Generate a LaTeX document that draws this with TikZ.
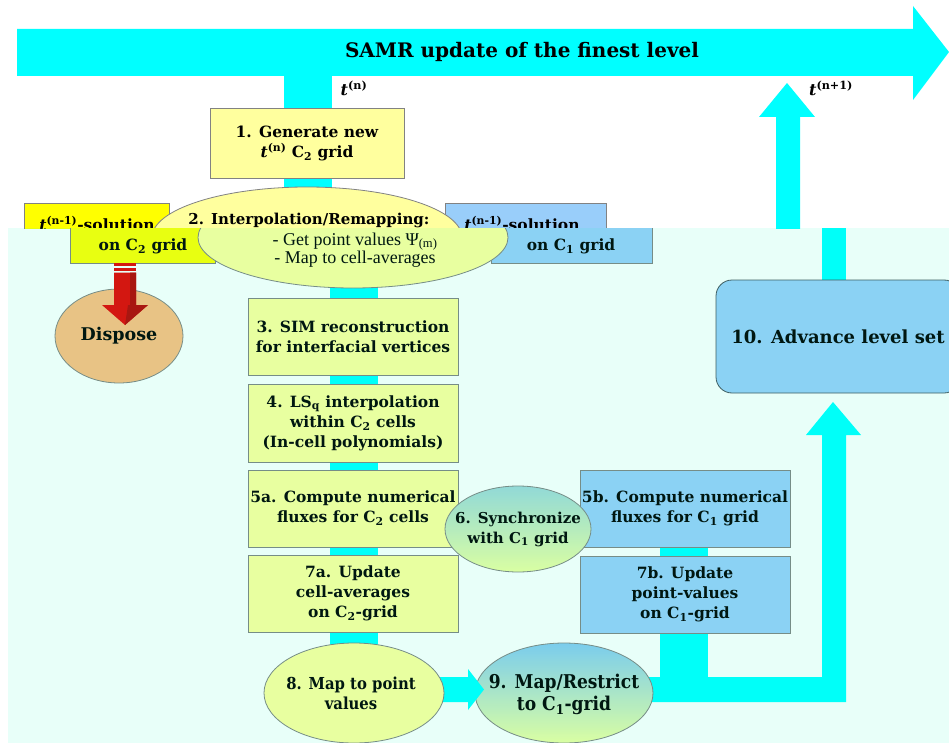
\documentclass[tikz,border=0pt]{standalone}
\usepackage{fontspec}
\setmainfont{DejaVu Serif}
\newfontfamily\tmsfont{Liberation Serif}
\newfontfamily\cndfont{DejaVu Serif Condensed}
\usetikzlibrary{shapes.geometric}
\definecolor{cy}{RGB}{0,255,255}
\definecolor{paley}{RGB}{255,255,158}
\definecolor{yel}{RGB}{255,255,0}
\definecolor{lblue}{RGB}{153,206,250}
\definecolor{tanc}{RGB}{255,190,128}
\definecolor{bord}{RGB}{130,130,130}
\definecolor{dbord}{RGB}{70,80,90}
\definecolor{mint}{RGB}{0,255,190}
\definecolor{redA}{RGB}{232,0,0}
\definecolor{redB}{RGB}{185,0,0}
\tikzset{
  box/.style={draw=bord, line width=0.8pt, rectangle, inner sep=0pt, align=center,
    font=\fontsize{15.5}{20}\selectfont\bfseries},
  ybox/.style={box, fill=paley},
  bbox/.style={box, fill=lblue},
  ell/.style={draw=bord, line width=0.8pt, ellipse, inner sep=0pt},
  etext/.style={inner sep=0pt, align=center},
  lbl/.style={inner sep=0pt, font=\fontsize{16}{18}\selectfont\bfseries},
  txt/.style={inner sep=0pt, anchor=base, font=\fontsize{15.5}{20}\selectfont\bfseries},
  bullet/.style={inner sep=0pt, anchor=base, font=\tmsfont\fontsize{18}{20}\selectfont},
  arrowfill/.style={fill=cy},
}
\newcommand{\tsup}[1]{{\itshape t}\textsuperscript{(#1)}}
% shapes that cross the cut line y=228 (no text)
\newcommand{\splitshapes}[1]{%
  \node[box, fill=yel, minimum width=145pt, minimum height=60pt] (sol2#1) at (142.5,233) {};
  \node[bbox, minimum width=161pt, minimum height=60pt] (sol1#1) at (571.5,233) {};
  \node[ell, fill=paley, minimum width=310pt, minimum height=101pt] (e2#1) at (353,237.5) {};
}
\begin{document}
\begin{tikzpicture}[x=1pt,y=-1pt]
\useasboundingbox (0,0) rectangle (949,743);
\fill[white] (0,0) rectangle (949,743);
% ---------------- upper band (shifted) ----------------
\begin{scope}
  \clip (0,0) rectangle (949,228);
  \begin{scope}[xshift=-46pt]
    \fill[arrowfill] (63,29) -- (959,29) -- (959,6) -- (995,52) -- (959,100) -- (959,76) -- (63,76) -- cycle;
    \node[inner sep=0pt, font=\fontsize{20}{22}\selectfont\bfseries] (title) at (568,52) {SAMR update of the finest level};
    \node[lbl] (tn) at (400,88) {\tsup{n}};
    \node[lbl] (tn1) at (877,88) {\tsup{n+1}};
    \fill[arrowfill] (330,76) rectangle (378,300);
    \fill[arrowfill] (822,300) -- (822,117) -- (805,117) -- (833,83) -- (861,117) -- (846,117) -- (846,300) -- cycle;
    \node[ybox, minimum width=194pt, minimum height=70pt] (b1) at (353,143)
       {1. Generate new\\\tsup{n} C\textsubscript{2} grid};
    \splitshapes{u}
    \node[txt] (sol2a) at (143,230) {\tsup{n-1}-solution};
    \node[txt] (sol1a) at (568,230) {\tsup{n-1}-solution};
    \node[txt, font=\fontsize{15}{20}\selectfont\bfseries] (e2a) at (355,225) {2. Interpolation/Remapping:};
  \end{scope}
\end{scope}
% ---------------- lower band ----------------
\begin{scope}
  \clip (0,228) rectangle (949,743);
  \fill[arrowfill] (330,200) rectangle (378,693);
  \fill[arrowfill] (660,508) rectangle (708,690);
  \fill[arrowfill] (600,677) -- (822,677) -- (822,435) -- (806,435) -- (833,402) -- (861,435)
     -- (846,435) -- (846,702) -- (600,702) -- cycle;
  \fill[arrowfill] (822,300) -- (822,200) -- (846,200) -- (846,300) -- cycle;
  \splitshapes{l}
  \node[txt] (sol2b) at (143,250) {on C\textsubscript{2} grid};
  \node[txt] (sol1b) at (571,250) {on C\textsubscript{1} grid};
  \node[bullet] (e2b) at (355,245) {- Get point values Ψ\textsubscript{(m)}};
  \node[bullet] (e2c) at (355,263.5) {- Map to cell-averages};
  % dispose
  \node[ell, fill=tanc, minimum width=128pt, minimum height=94pt] (disp) at (119,336) {};
  \node[etext, font=\fontsize{17.5}{20}\selectfont\bfseries] (dispt) at (disp.center) {Dispose};
  \fill[redA] (114,263) rectangle (136,265.5);
  \fill[redA] (114,267.5) rectangle (136,270.5);
  \fill[redA] (114,272.5) -- (136,272.5) -- (136,305) -- (148,305) -- (125,325) -- (102,305) -- (114,305) -- cycle;
  \fill[redB] (130,272.5) -- (136,272.5) -- (136,305) -- (148,305) -- (125,325) -- (128,305) -- (130,305) -- cycle;
  % left column
  \node[ybox, minimum width=210pt, minimum height=77pt] (b3) at (353,336.5)
     {3. SIM reconstruction\\for interfacial vertices};
  \node[ybox, minimum width=210pt, minimum height=78pt] (b4) at (353,423)
     {4. LS\textsubscript{q} interpolation\\within C\textsubscript{2} cells\\(In-cell polynomials)};
  \node[ybox, minimum width=210pt, minimum height=77pt] (b5a) at (353,508.5)
     {5a. Compute numerical\\fluxes for C\textsubscript{2} cells};
  \node[ybox, minimum width=210pt, minimum height=77pt] (b7a) at (353,593.5)
     {7a. Update\\cell-averages\\on C\textsubscript{2}-grid};
  % right column
  \node[bbox, minimum width=210pt, minimum height=77pt] (b5b) at (685,508.5)
     {5b. Compute numerical\\fluxes for C\textsubscript{1} grid};
  \node[bbox, minimum width=210pt, minimum height=77pt] (b7b) at (685,594.5)
     {7b. Update\\point-values\\on C\textsubscript{1}-grid};
  \node[ell, top color={rgb,255:red,160;green,214;blue,218}, bottom color={rgb,255:red,240;green,255;blue,160},
        minimum width=146pt, minimum height=86pt] (e6) at (518,529) {};
  \node[etext, font=\fontsize{15}{20}\selectfont\bfseries] (e6t) at (e6.center) {6. Synchronize\\with C\textsubscript{1} grid};
  % box 10
  \node[box, fill=lblue, draw=dbord, rounded corners=16pt, minimum width=244pt, minimum height=113pt,
        font=\fontsize{18}{20}\selectfont\bfseries] (b10) at (838,336.5) {10. Advance level set};
  % bottom ellipses
  \node[ell, top color={rgb,255:red,135;green,200;blue,242}, bottom color={rgb,255:red,240;green,255;blue,160},
        minimum width=178pt, minimum height=100pt] (e9) at (564,693) {};
  \node[etext, font=\cndfont\fontsize{19}{22}\selectfont\bfseries] (e9t) at (564,694) {9. Map/Restrict\\to C\textsubscript{1}-grid};
  \fill[arrowfill] (430,677) -- (468,677) -- (468,669) -- (484,689.5) -- (468,710) -- (468,702) -- (430,702) -- cycle;
  \node[ell, fill=paley, minimum width=180pt, minimum height=100pt] (e8) at (354,693) {};
  \node[etext, font=\cndfont\fontsize{16.5}{20}\selectfont\bfseries] (e8t) at (351,693) {8. Map to point\\values};
  \fill[mint, opacity=0.09] (8,228) rectangle (949,743);
\end{scope}
\end{tikzpicture}
\end{document}
